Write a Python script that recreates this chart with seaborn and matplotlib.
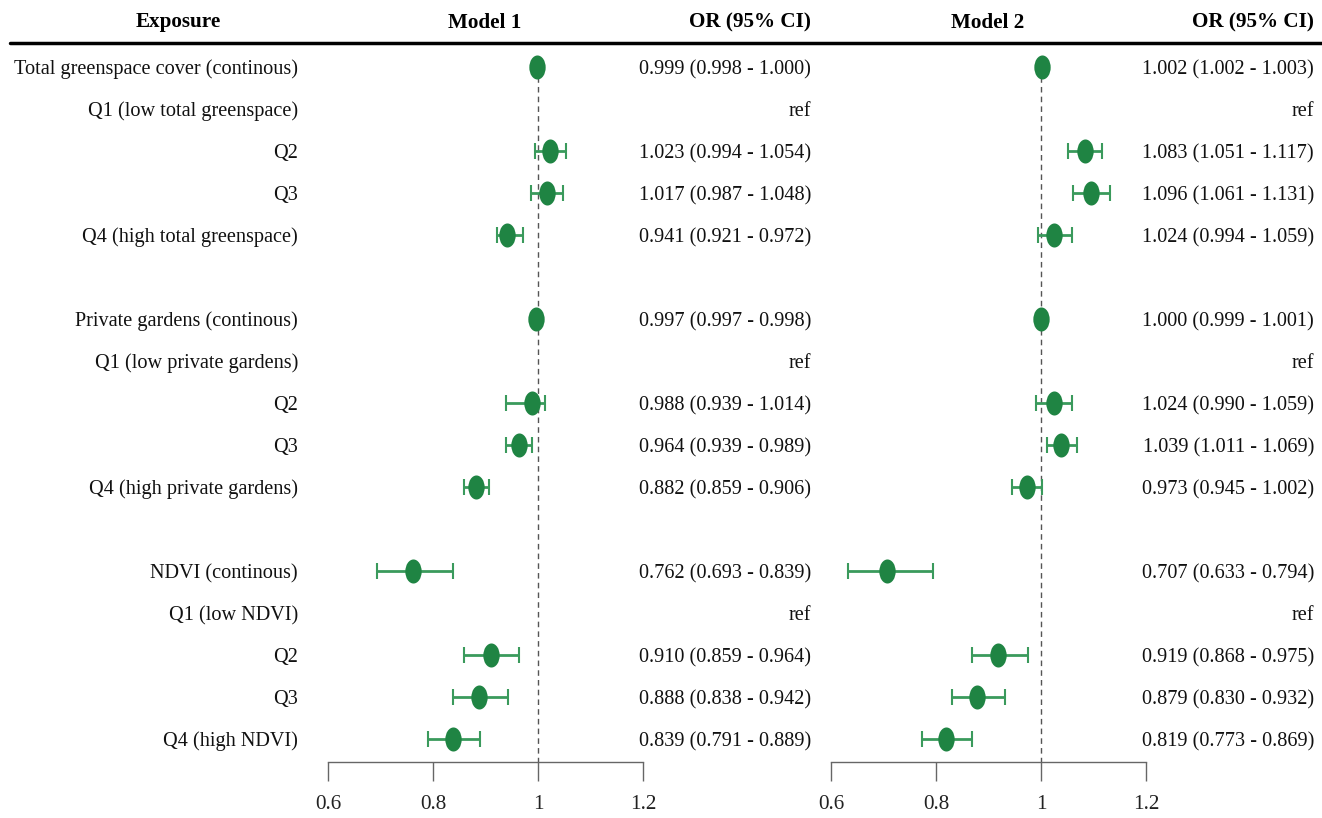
import matplotlib
matplotlib.use("Agg")
import matplotlib.pyplot as plt
import matplotlib.transforms as mtransforms
from matplotlib.path import Path
import numpy as np
import pandas as pd
import seaborn as sns

sns.set_theme(style="white")
plt.rcParams["font.family"] = ["Liberation Serif", "DejaVu Serif"]

# rows of the table (blank strings are spacer rows)
exposures = ["Total greenspace cover (continous)", "Q1 (low total greenspace)", "Q2", "Q3",
             "Q4 (high total greenspace)", "",
             "Private gardens (continous)", "Q1 (low private gardens)", "Q2", "Q3",
             "Q4 (high private gardens)", "",
             "NDVI (continous)", "Q1 (low NDVI)", "Q2", "Q3", "Q4 (high NDVI)"]
is_ref = [False, True, False, False, False, False,
          False, True, False, False, False, False,
          False, True, False, False, False]

nan = np.nan
m1_or = [0.999, nan, 1.023, 1.017, 0.941, nan, 0.997, nan, 0.988, 0.964, 0.882, nan,
         0.762, nan, 0.910, 0.888, 0.839]
m1_lo = [0.998, nan, 0.994, 0.987, 0.921, nan, 0.997, nan, 0.939, 0.939, 0.859, nan,
         0.693, nan, 0.859, 0.838, 0.791]
m1_hi = [1.000, nan, 1.054, 1.048, 0.972, nan, 0.998, nan, 1.014, 0.989, 0.906, nan,
         0.839, nan, 0.964, 0.942, 0.889]

m2_or = [1.002, nan, 1.083, 1.096, 1.024, nan, 1.000, nan, 1.024, 1.039, 0.973, nan,
         0.707, nan, 0.919, 0.879, 0.819]
m2_lo = [1.002, nan, 1.051, 1.061, 0.994, nan, 0.999, nan, 0.990, 1.011, 0.945, nan,
         0.633, nan, 0.868, 0.830, 0.773]
m2_hi = [1.003, nan, 1.117, 1.131, 1.059, nan, 1.001, nan, 1.059, 1.069, 1.002, nan,
         0.794, nan, 0.975, 0.932, 0.869]

xticks = [0.6, 0.8, 1.0, 1.2]
xticklabels = ["0.6", "0.8", "1", "1.2"]

point_color = "#1f8443"
bar_color = "#3a9a5c"
axis_gray = "#666666"
fs = 14.6

W, H = 1322, 818
fig = plt.figure(figsize=(W / 100, H / 100), dpi=100)

rows = np.arange(1, len(exposures) + 1)
y_top, y_bot = 0.43, 17.55   # rows visible between header rule and axis line
ax_bottom = 1 - 762 / H
ax_height = (762 - 43) / H

ellipse = Path.unit_circle().transformed(mtransforms.Affine2D().scale(0.68, 1.0))


def fmt(o, lo, hi, ref):
    if ref:
        return "ref"
    if np.isnan(o):
        return ""
    return f"{o:.3f} ({lo:.3f} - {hi:.3f})"


def panel(left_px, or_, lo, hi):
    ax = fig.add_axes([left_px / W, ax_bottom, 315 / W, ax_height])
    df = pd.DataFrame({"row": rows, "or": or_, "lo": lo, "hi": hi}).dropna()
    ax.errorbar(df["or"], df["row"], xerr=[df["or"] - df["lo"], df["hi"] - df["or"]],
                fmt="none", ecolor=bar_color, elinewidth=2, capsize=6, capthick=1.5, zorder=2)
    sns.scatterplot(data=df, x="or", y="row", marker=ellipse, s=300, color=point_color,
                    edgecolor=point_color, linewidth=0, ax=ax, zorder=3, legend=False)
    ax.plot([1, 1], [1, y_bot], ls=(0, (4, 3)), color="#555555", lw=1, zorder=1)
    ax.set_xlim(0.6, 1.2)
    ax.set_ylim(y_bot, y_top)
    ax.set_xticks(xticks)
    ax.set_xticklabels(xticklabels, fontsize=fs + 0.6)
    ax.set_yticks([])
    ax.set_xlabel("")
    ax.set_ylabel("")
    for s in ["top", "left", "right"]:
        ax.spines[s].set_visible(False)
    ax.spines["bottom"].set_color(axis_gray)
    ax.spines["bottom"].set_linewidth(1)
    ax.tick_params(axis="x", bottom=True, direction="out", length=14, width=1,
                   color=axis_gray, pad=10, labelcolor="#222222")
    ax.patch.set_alpha(0)
    return ax


ax1 = panel(328, m1_or, m1_lo, m1_hi)
ax2 = panel(831, m2_or, m2_lo, m2_hi)

# text columns, x in figure pixels, y in row units
tr = mtransforms.blended_transform_factory(fig.transFigure, ax1.transData)
for r, lab, ref, a, b, c, d, e, f in zip(rows, exposures, is_ref, m1_or, m1_lo, m1_hi,
                                          m2_or, m2_lo, m2_hi):
    kw = dict(transform=tr, ha="right", va="center_baseline", fontsize=fs, color="#111111")
    fig.text(298 / W, r, lab, **kw)
    fig.text(811 / W, r, fmt(a, b, c, ref), **kw)
    fig.text(1314 / W, r, fmt(d, e, f, ref), **kw)

# header
hy = 1 - 20 / H
hkw = dict(va="center_baseline", fontsize=fs + 0.6, fontweight="bold", color="black")
fig.text(178 / W, hy, "Exposure", ha="center", **hkw)
fig.text(485 / W, hy, "Model 1", ha="center", **hkw)
fig.text(811 / W, hy, "OR (95% CI)", ha="right", **hkw)
fig.text(988 / W, hy, "Model 2", ha="center", **hkw)
fig.text(1314 / W, hy, "OR (95% CI)", ha="right", **hkw)
fig.add_artist(plt.Line2D([10 / W, 1.0], [1 - 43 / H, 1 - 43 / H], color="black", lw=2.5))

fig.savefig("out.png", dpi=100)
